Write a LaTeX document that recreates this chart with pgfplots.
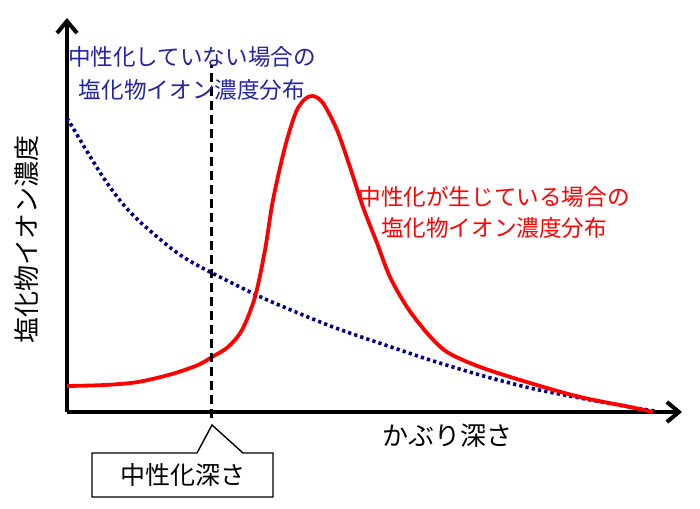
\documentclass[border=0pt]{standalone}
\usepackage{pgfplots}
\pgfplotsset{compat=1.18}
\usepackage{fontspec}
\setmainfont{Noto Sans CJK JP}
\usetikzlibrary{arrows.meta}
\definecolor{dotblue}{RGB}{0,0,140}
\definecolor{txtblue}{RGB}{35,35,165}
\definecolor{cred}{RGB}{255,0,0}
\begin{document}
\begin{tikzpicture}
\begin{axis}[
  scale only axis, width=307.5pt, height=197pt,
  xmin=67, xmax=682, ymin=0, ymax=394,
  axis lines=left, xtick=\empty, ytick=\empty,
  axis line style={line width=2pt, -{Straight Barb[length=6pt,width=10pt]}},
  clip=false,
]
% no carbonation (blue dotted)
\addplot[dotblue, line width=1.8pt, dash pattern=on 1.6pt off 1.6pt, smooth] coordinates {
  (67,294) (88,259) (105,232) (122,209) (138,192) (155,177) (172,163)
  (188,152) (212,139) (242,124) (272,110) (333,85) (400,62) (430,52)
  (480,37) (530,24) (580,14) (630,5) (655,1)};
% carbonated (red)
\addplot[cred, line width=1.9pt, smooth] coordinates {
  (67,26) (105,27) (138,30) (172,38) (198,47) (212,55) (228,65) (242,82)
  (255,115) (265,162) (273,212) (285,265) (296,300) (305,313) (313,316) (323,309)
  (337,282) (350,245) (363,205) (377,169) (390,135) (407,105)
  (427,79) (447,60) (480,45) (530,29) (580,15) (630,5) (653,0)};
% carbonation depth
\addplot[black, line width=1.3pt, dash pattern=on 4.5pt off 2.5pt] coordinates {(211.5,-6) (211.5,347)};

\node[font=\fontsize{13}{15}\selectfont, rotate=90] at (axis cs:27,172) {塩化物イオン濃度};
\node[font=\fontsize{13}{15}\selectfont] at (axis cs:447,-24) {かぶり深さ};
\node[txtblue, align=center, font=\fontsize{11.3}{16.5}\selectfont] at (axis cs:192,339) {中性化していない場合の\\塩化物イオン濃度分布};
\node[cred, align=center, font=\fontsize{11.3}{15.5}\selectfont] at (axis cs:494,200) {中性化が生じている場合の\\塩化物イオン濃度分布};
\draw[line width=0.7pt, fill=white] (axis cs:92,-41) -- (axis cs:197,-41) -- (axis cs:212,-13) -- (axis cs:243,-41)
  -- (axis cs:273,-41) -- (axis cs:273,-85) -- (axis cs:92,-85) -- cycle;
\node[font=\fontsize{12.5}{15}\selectfont] at (axis cs:183,-63) {中性化深さ};
\coordinate (bbA) at (axis cs:0,-96);
\coordinate (bbB) at (axis cs:700,412);
\end{axis}
\pgfresetboundingbox
\path[use as bounding box] (bbA) rectangle (bbB);
\end{tikzpicture}
\end{document}
